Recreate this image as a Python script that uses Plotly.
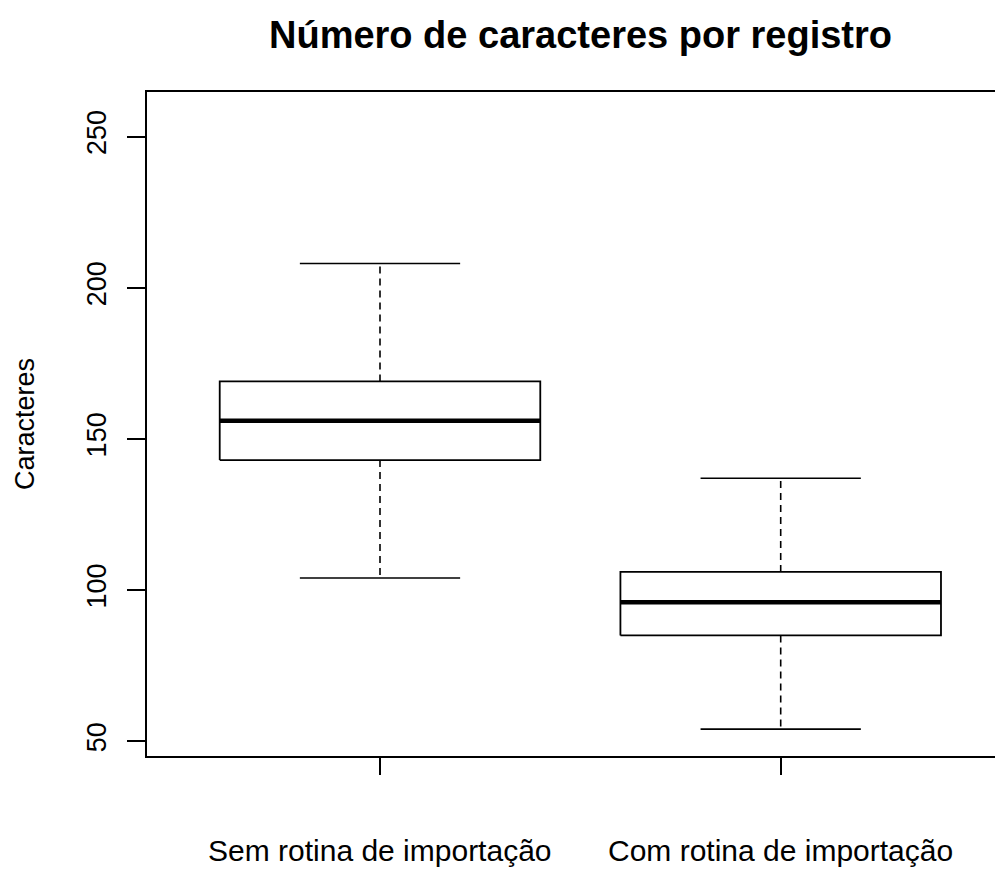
import plotly.graph_objects as go

categories = ["Sem rotina de importação", "Com rotina de importação"]
lower_whisker = [104, 54]
q1 = [143, 85]
median = [156, 96]
q3 = [169, 106]
upper_whisker = [208, 137]
y_ticks = [50, 100, 150, 200, 250]

FONT = "Liberation Sans, Arial, sans-serif"
BOX_HALF = 0.4
CAP_HALF = 0.2

# page body has an 8px margin; figure is sized to fit the 1003x888 window
W, H = 987, 872
L, T, B = 139, 84, 124
PLOT_H = H - T - B

fig = go.Figure()
for i, cat in enumerate(categories):
    pos = i + 1
    fig.add_trace(go.Scatter(x=[pos, pos], y=[q3[i], upper_whisker[i]], mode="lines",
                             line=dict(color="black", width=1.6, dash="7px,5px"),
                             showlegend=False, hoverinfo="skip"))
    fig.add_trace(go.Scatter(x=[pos, pos], y=[q1[i], lower_whisker[i]], mode="lines",
                             line=dict(color="black", width=1.6, dash="7px,5px"),
                             showlegend=False, hoverinfo="skip"))
    for v in (upper_whisker[i], lower_whisker[i]):
        fig.add_trace(go.Scatter(x=[pos - CAP_HALF, pos + CAP_HALF], y=[v, v], mode="lines",
                                 line=dict(color="black", width=1.6),
                                 showlegend=False, hoverinfo="skip"))
    fig.add_trace(go.Scatter(
        x=[pos - BOX_HALF, pos + BOX_HALF, pos + BOX_HALF, pos - BOX_HALF, pos - BOX_HALF],
        y=[q1[i], q1[i], q3[i], q3[i], q1[i]], mode="lines",
        line=dict(color="black", width=1.8), fill="toself", fillcolor="white",
        name=cat, showlegend=False, hoverinfo="skip"))
    fig.add_trace(go.Scatter(x=[pos - BOX_HALF, pos + BOX_HALF], y=[median[i], median[i]],
                             mode="lines", line=dict(color="black", width=4.5),
                             showlegend=False, hoverinfo="skip"))

for i, cat in enumerate(categories):
    fig.add_annotation(x=i + 1, xref="x", y=-(842 - (H - B)) / PLOT_H, yref="paper",
                       text=cat, showarrow=False, xanchor="center", yanchor="middle",
                       font=dict(family=FONT, size=30, color="black"))

fig.add_annotation(x=(17 - L) / (W - L), xref="paper", y=0.5, yref="paper",
                   text="Caracteres", textangle=-90, showarrow=False,
                   xanchor="center", yanchor="middle",
                   font=dict(family=FONT, size=27, color="black"))

fig.update_layout(
    width=W, height=H, autosize=False,
    margin=dict(l=L, r=0, t=T, b=B, pad=0),
    paper_bgcolor="white", plot_bgcolor="white",
    title=dict(text="Número de caracteres por registro",
               font=dict(family=FONT, size=38, color="black", weight="bold"),
               x=572.5 / W, xanchor="center", xref="container",
               y=1 - 27 / H, yanchor="middle", yref="container"),
    xaxis=dict(range=[1 - 233 / 400.7, 2 + 214.3 / 400.7], showgrid=False, zeroline=False,
               showline=True, linecolor="black", linewidth=2, mirror=True,
               tickmode="array", tickvals=[1, 2], ticktext=["", ""],
               ticks="outside", ticklen=17, tickwidth=1.6, tickcolor="black"),
    yaxis=dict(range=[45.1, 264.75], showgrid=False, zeroline=False,
               showline=True, linecolor="black", linewidth=2,
               tickmode="array", tickvals=y_ticks, ticktext=[str(v) for v in y_ticks],
               ticks="outside", ticklen=18, tickwidth=1.6, tickcolor="black",
               tickangle=-90, ticklabelstandoff=10,
               tickfont=dict(family=FONT, size=27, color="black")),
)

fig.write_html("out.html")
